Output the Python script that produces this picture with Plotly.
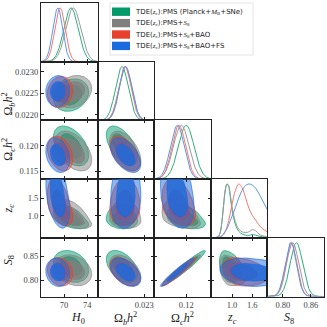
import numpy as np
import plotly.graph_objects as go

# ---- data (legend order) ----
series = [
    "TDE(<span style='font-family:Liberation Serif'><i>z</i><sub>c</sub></span>):PMS (Planck+<span style='font-family:Liberation Serif'><i>M</i><sub>B</sub></span>+SNe)",
    "TDE(<span style='font-family:Liberation Serif'><i>z</i><sub>c</sub></span>):PMS+<span style='font-family:Liberation Serif'><i>S</i><sub>8</sub></span>",
    "TDE(<span style='font-family:Liberation Serif'><i>z</i><sub>c</sub></span>):PMS+<span style='font-family:Liberation Serif'><i>S</i><sub>8</sub></span>+BAO",
    "TDE(<span style='font-family:Liberation Serif'><i>z</i><sub>c</sub></span>):PMS+<span style='font-family:Liberation Serif'><i>S</i><sub>8</sub></span>+BAO+FS",
]
colors = ["#039a69", "#7f7f7f", "#e8402f", "#1a6be0"]
line_colors = ["#2eae7c", "#9a9a9a", "#f07a6c", "#5a95f0"]

param_labels = ["<i>H</i><sub>0</sub>", "Ω<sub><i>b</i></sub><i>h</i><sup>2</sup>",
                "Ω<sub><i>c</i></sub><i>h</i><sup>2</sup>", "<i>z<sub>c</sub></i>", "<i>S</i><sub>8</sub>"]
param_ranges = [[66.0, 75.8], [0.02187, 0.02324], [0.1135, 0.1250], [0.37, 2.05], [0.767, 0.888]]
x_ticks = [[70, 74], [0.023], [0.12], [1.0, 1.6], [0.80, 0.86]]
x_ticktext = [["70", "74"], ["0.023"], ["0.12"], ["1.0", "1.6"], ["0.80", "0.86"]]
y_ticks = [[70, 74], [0.0220, 0.0225, 0.0230], [0.115, 0.120], [1.0, 1.5], [0.80, 0.85]]
y_ticktext = [["70", "74"], ["0.0220", "0.0225", "0.0230"], ["0.115", "0.120"], ["1.0", "1.5"], ["0.80", "0.85"]]

H0_mean = [71.2, 71.6, 69.3, 68.9]
H0_sigma = [1.25, 1.3, 0.9, 0.85]
obh2_mean = [0.02246, 0.02254, 0.02253, 0.02255]
obh2_sigma = [0.000155, 0.000155, 0.00015, 0.00015]
och2_mean = [0.1200, 0.1190, 0.1185, 0.1182]
och2_sigma = [0.0016, 0.0016, 0.0014, 0.0014]
zc_mode = [0.87, 0.88, 1.20, 1.50]
zc_sigma_lo = [0.10, 0.10, 0.20, 0.35]
zc_sigma_hi = [0.18, 0.24, 0.36, 0.55]
S8_mean = [0.829, 0.821, 0.818, 0.817]
S8_sigma = [0.0135, 0.013, 0.012, 0.012]

# 1D z_c posteriors (non-gaussian), read on a grid
zc_grid = [0.40, 0.50, 0.60, 0.65, 0.70, 0.75, 0.80, 0.85, 0.90, 0.95, 1.00, 1.10, 1.20,
           1.30, 1.40, 1.50, 1.60, 1.70, 1.80, 1.90, 2.05]
zc_p_green = [0, 0, 0.03, 0.10, 0.30, 0.60, 0.88, 1.0, 0.95, 0.75, 0.52, 0.25, 0.12,
              0.07, 0.05, 0.045, 0.06, 0.05, 0.03, 0.02, 0.01]
zc_p_gray = [0, 0, 0.03, 0.10, 0.30, 0.62, 0.90, 1.0, 0.97, 0.80, 0.58, 0.30, 0.16,
             0.11, 0.10, 0.11, 0.15, 0.13, 0.07, 0.04, 0.02]
zc_p_red = [0, 0, 0, 0.01, 0.03, 0.06, 0.12, 0.20, 0.32, 0.46, 0.62, 0.88, 1.0,
            0.93, 0.75, 0.55, 0.42, 0.33, 0.24, 0.17, 0.11]
zc_p_blue = [0, 0, 0.01, 0.02, 0.04, 0.08, 0.12, 0.17, 0.24, 0.32, 0.40, 0.56, 0.74,
             0.88, 0.97, 1.0, 0.98, 0.92, 0.82, 0.70, 0.52]

# correlation coefficients per pair, one per series
r_H0_obh2 = [0.2, 0.2, 0.1, 0.05]
r_H0_och2 = [-0.45, -0.45, -0.3, -0.25]
r_obh2_och2 = [-0.55, -0.5, -0.5, -0.5]
r_H0_zc = [-0.5, -0.5, -0.45, -0.4]
r_obh2_zc = [-0.1, -0.1, 0.05, 0.1]
r_och2_zc = [-0.4, -0.4, -0.35, -0.3]
r_H0_S8 = [-0.25, -0.25, -0.15, -0.1]
r_obh2_S8 = [-0.45, -0.45, -0.45, -0.45]
r_och2_S8 = [0.96, 0.96, 0.96, 0.96]
r_zc_S8 = [-0.3, -0.3, -0.25, -0.2]

means = [H0_mean, obh2_mean, och2_mean, zc_mode, S8_mean]
sig_lo = [H0_sigma, obh2_sigma, och2_sigma, zc_sigma_lo, S8_sigma]
sig_hi = [H0_sigma, obh2_sigma, och2_sigma, zc_sigma_hi, S8_sigma]
zc_curves = [zc_p_green, zc_p_gray, zc_p_red, zc_p_blue]
corr = {(1, 0): r_H0_obh2, (2, 0): r_H0_och2, (2, 1): r_obh2_och2,
        (3, 0): r_H0_zc, (3, 1): r_obh2_zc, (3, 2): r_och2_zc,
        (4, 0): r_H0_S8, (4, 1): r_obh2_S8, (4, 2): r_och2_S8, (4, 3): r_zc_S8}


def hex_rgba(h, a):
    h = h.lstrip("#")
    return "rgba(%d,%d,%d,%.2f)" % (int(h[0:2], 16), int(h[2:4], 16), int(h[4:6], 16), a)


def contour(j, i, s, k):
    # split-normal ellipse in the (param j, param i) plane
    r = corr[(i, j)][s]
    t = np.linspace(0, 2 * np.pi, 160)
    u = k * np.cos(t)
    v = k * (r * np.cos(t) + np.sqrt(1 - r * r) * np.sin(t))
    x = means[j][s] + u * np.where(u < 0, sig_lo[j][s], sig_hi[j][s])
    y = means[i][s] + v * np.where(v < 0, sig_lo[i][s], sig_hi[i][s])
    return x, y


W = H = 327
col_edges = [41, 97.6, 154.2, 210.8, 267.4, 324]
row_edges = [3, 61.7, 120.4, 179.1, 237.8, 296.5]

fig = go.Figure()
layout = {}
serif = "Liberation Serif"
n = 0
for i in range(5):
    for j in range(i + 1):
        n += 1
        xa, ya = "x%d" % n, "y%d" % n
        xdom = [col_edges[j] / W, col_edges[j + 1] / W]
        ydom = [1 - row_edges[i + 1] / H, 1 - row_edges[i] / H]
        common = dict(showgrid=False, zeroline=False, showline=True, linecolor="#222",
                      linewidth=1, ticks="inside", ticklen=3, tickwidth=0.8, tickcolor="#222",
                      tickfont=dict(family=serif, size=8.5, color="#444"))
        xax = dict(common, domain=xdom, anchor=ya, range=param_ranges[j],
                   tickvals=x_ticks[j], ticktext=x_ticktext[j],
                   showticklabels=(i == 4), mirror="allticks")
        if i == j:
            yax = dict(common, domain=ydom, anchor=xa, range=[0, 1.09], ticks="",
                       showticklabels=False, mirror=True)
            xax["mirror"] = True
            for s in range(4):
                if i == 3:
                    xs, ys = zc_grid, zc_curves[s]
                    shape = "spline"
                else:
                    xs = np.linspace(param_ranges[j][0], param_ranges[j][1], 200)
                    ys = np.exp(-0.5 * ((xs - means[j][s]) / sig_lo[j][s]) ** 2)
                    shape = "linear"
                fig.add_trace(go.Scatter(x=xs, y=ys, mode="lines", xaxis=xa, yaxis=ya,
                                         line=dict(color=line_colors[s], width=1, shape=shape),
                                         hoverinfo="skip"))
        else:
            yax = dict(common, domain=ydom, anchor=xa, range=param_ranges[i],
                       tickvals=y_ticks[i], ticktext=y_ticktext[i],
                       showticklabels=(j == 0), mirror="allticks")
            for s in range(4):
                for k, a in [(2.448, 0.5), (1.515, 0.8)]:
                    cx, cy = contour(j, i, s, k)
                    fig.add_trace(go.Scatter(x=cx, y=cy, mode="lines", fill="toself",
                                             fillcolor=hex_rgba(colors[s], a),
                                             line=dict(color=hex_rgba(colors[s], 0.9), width=0.7),
                                             xaxis=xa, yaxis=ya, hoverinfo="skip"))
        layout["xaxis" if n == 1 else "xaxis%d" % n] = xax
        layout["yaxis" if n == 1 else "yaxis%d" % n] = yax

annotations = []
for j in range(5):
    annotations.append(dict(text=param_labels[j], x=(col_edges[j] + col_edges[j + 1]) / 2 / W,
                            y=1 - 318 / H, xref="paper", yref="paper", showarrow=False,
                            yanchor="middle",
                            font=dict(family=serif, size=12, color="#222")))
for i in range(1, 5):
    annotations.append(dict(text=param_labels[i], x=9 / W, y=1 - (row_edges[i] + row_edges[i + 1]) / 2 / H,
                            xref="paper", yref="paper", showarrow=False, textangle=-90,
                            xanchor="center",
                            font=dict(family=serif, size=12, color="#222")))

# legend box
shapes = [dict(type="rect", xref="paper", yref="paper", x0=110 / W, x1=253 / W,
               y0=1 - 55 / H, y1=1 - 3 / H, line=dict(color="#dddddd", width=0.8),
               fillcolor="white")]
for s in range(4):
    yc = 11.7 + s * 11.4
    shapes.append(dict(type="rect", xref="paper", yref="paper", x0=112 / W, x1=130 / W,
                       y0=1 - (yc + 4.2) / H, y1=1 - (yc - 4.2) / H, line=dict(width=0),
                       fillcolor=colors[s]))
    annotations.append(dict(text=series[s], x=133 / W, y=1 - yc / H, xref="paper", yref="paper",
                            xanchor="left", yanchor="middle", showarrow=False,
                            font=dict(family="DejaVu Sans", size=7, color="#222")))

fig.update_layout(width=W, height=H, margin=dict(l=0, r=0, t=0, b=0), showlegend=False,
                  paper_bgcolor="white", plot_bgcolor="white",
                  annotations=annotations, shapes=shapes, **layout)
fig.write_html("out.html", config={"displayModeBar": False},
               post_script="document.body.style.margin='0';")
